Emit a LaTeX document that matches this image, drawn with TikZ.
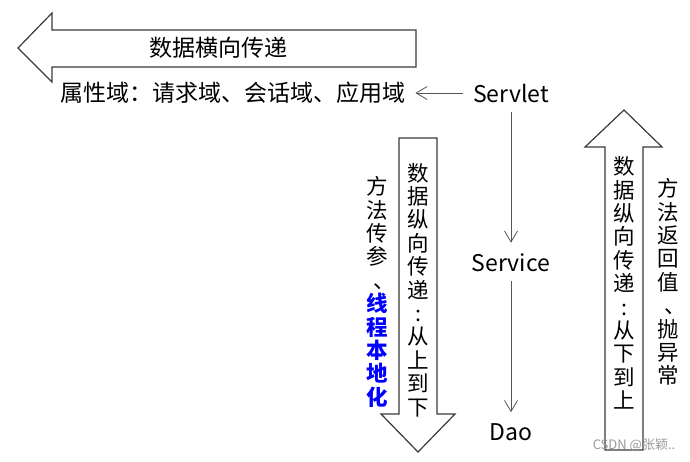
\documentclass[tikz,border=0pt]{standalone}
\usepackage{fontspec}
\setmainfont{Noto Sans CJK SC}
\usetikzlibrary{arrows.meta}
\definecolor{linegray}{HTML}{3A3A3A}
\definecolor{thingray}{HTML}{555555}
\definecolor{wmgray}{HTML}{9A9A9A}
\newcommand{\vdun}{\hspace*{0.7em}、}
\tikzset{
  bigarrow/.style={draw=linegray, line width=1.2pt, fill=white, line join=miter},
  htext/.style={font=\fontsize{23}{25}\selectfont, inner sep=0pt, text=black},
  vtext/.style={font=\fontsize{21.5}{23.4}\selectfont, align=center, inner sep=0pt, text=black},
  flow/.style={draw=thingray, line width=0.8pt, -{Straight Barb[length=11pt,width=13pt,line width=0.8pt]}},
  lbl/.style={font=\fontsize{23}{25}\selectfont, inner sep=0pt, text=black}
}
\begin{document}
\begin{tikzpicture}[x=1pt,y=-1pt]
\useasboundingbox (0,0) rectangle (690,462);
% big horizontal arrow
\draw[bigarrow] (416,30) -- (52,30) -- (52,13) -- (18,48) -- (52,82) -- (52,67) -- (416,67) -- cycle;
\node[htext] (hor) at (218,48) {数据横向传递};
% big down arrow
\draw[bigarrow] (399,138) -- (437,138) -- (437,414) -- (455,414) -- (418,452) -- (381,414) -- (399,414) -- cycle;
% big up arrow
\draw[bigarrow] (605,450) -- (605,147) -- (585,147) -- (624,110) -- (662,147) -- (643,147) -- (643,450) -- cycle;

\node[htext, anchor=west] (attr) at (60,93) {属性域：请求域、会话域、应用域};
\node[lbl] (servlet) at (511,93) {Servlet};
\node[lbl] (service) at (511,263) {Service};
\node[lbl] (dao) at (511,432) {Dao};

\draw[flow] ([xshift=-10pt]servlet.west) -- ([xshift=10pt]attr.east);
\draw[flow] ([yshift=-9pt]servlet.south) -- ([yshift=11pt]service.north);
\draw[flow] ([yshift=-9pt]service.south) -- ([yshift=11pt]dao.north);

\node[vtext] (down) at (418,290) {数\\据\\纵\\向\\传\\递\\:\\从\\上\\到\\下};
\node[vtext] (lefttxt) at (377,292) {方\\法\\传\\参\\\vdun\\{\color{blue}\bfseries 线}\\{\color{blue}\bfseries 程}\\{\color{blue}\bfseries 本}\\{\color{blue}\bfseries 地}\\{\color{blue}\bfseries 化}};
\node[vtext] (up) at (624,283) {数\\据\\纵\\向\\传\\递\\:\\从\\下\\到\\上};
\node[vtext] (righttxt) at (668,282) {方\\法\\返\\回\\值\\\vdun\\抛\\异\\常};
\node[font=\fontsize{13}{15}\selectfont, text=wmgray, inner sep=0pt] (wm) at (634,445) {CSDN @张颖..};
\end{tikzpicture}
\end{document}
